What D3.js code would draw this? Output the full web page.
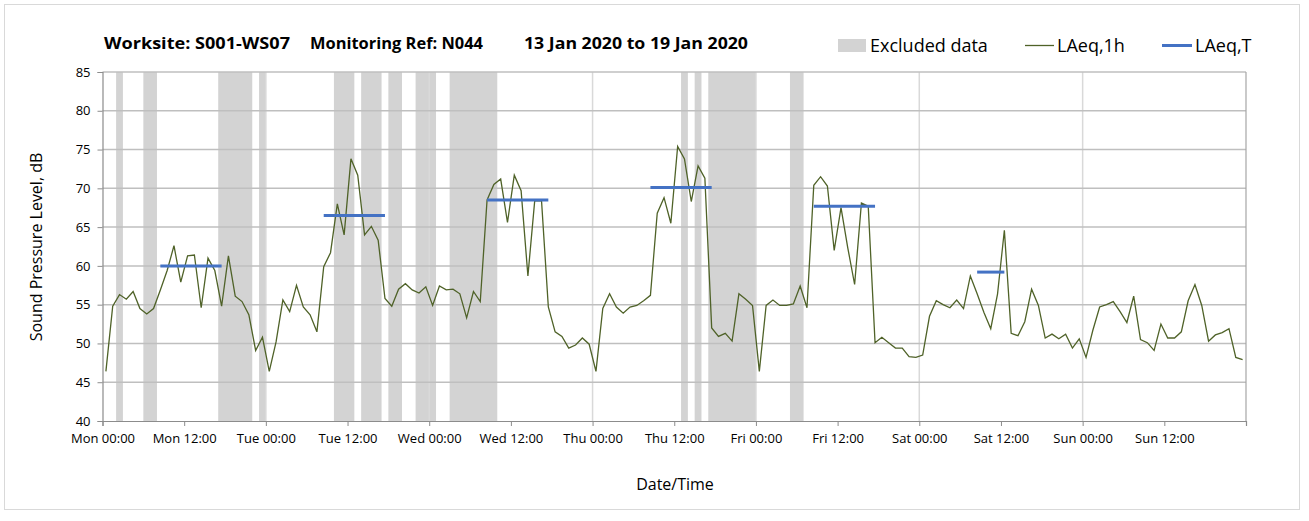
<!DOCTYPE html>
<html><head><meta charset="utf-8">
<script src="https://cdn.jsdelivr.net/npm/d3@7"></script>
<style>
html,body{margin:0;padding:0;background:#fff;}
svg{display:block;font-family:"Open Sans","Noto Sans",sans-serif;}
</style></head>
<body><svg id="chart" width="1309" height="521"></svg>
<script>
// ---- data ----
const titleParts = ["Worksite: S001-WS07", "Monitoring Ref: N044", "13 Jan 2020 to 19 Jan 2020"];
const xTickHours = [0,12,24,36,48,60,72,84,96,108,120,132,144,156];
const xTickLabels = ["Mon 00:00","Mon 12:00","Tue 00:00","Tue 12:00","Wed 00:00","Wed 12:00","Thu 00:00","Thu 12:00","Fri 00:00","Fri 12:00","Sat 00:00","Sat 12:00","Sun 00:00","Sun 12:00"];
const yTicks = [40,45,50,55,60,65,70,75,80,85];
const dayGridHours = [24,48,72,96,120,144];
// hourly LAeq,1h values, hour 0 = Mon 00:00
const laeq1h = [
46.4,54.8,56.3,55.7,56.7,54.5,53.8,54.5,56.9,59.4,62.6,57.9,61.3,61.4,54.6,61.0,59.4,54.8,61.3,56.1,55.4,53.7,49.1,50.8,
46.4,50.2,55.6,54.1,57.5,54.7,53.7,51.5,59.9,61.7,68.0,64.0,73.8,71.7,64.0,65.1,63.3,55.8,54.8,57.0,57.7,56.9,56.5,57.3,
54.9,57.4,56.9,57.0,56.4,53.3,56.7,55.4,68.5,70.5,71.2,65.6,71.7,69.7,58.7,68.4,68.4,54.7,51.5,50.9,49.4,49.8,50.7,49.9,
46.4,54.5,56.4,54.7,53.9,54.7,54.9,55.5,56.2,66.8,68.8,65.5,75.4,73.8,68.3,72.9,71.3,52.0,50.9,51.3,50.3,56.4,55.7,54.9,
46.4,54.9,55.6,54.9,54.9,55.1,57.4,54.6,70.4,71.5,70.3,62.0,67.5,62.3,57.6,68.1,67.7,50.1,50.8,50.1,49.4,49.4,48.3,48.2,
48.5,53.5,55.5,55.0,54.6,55.6,54.5,58.7,56.4,54.0,51.9,56.4,64.6,51.3,51.0,52.8,57.0,54.9,50.7,51.2,50.6,51.2,49.4,50.6,
48.2,51.7,54.7,55.0,55.4,54.1,52.7,56.1,50.5,50.1,49.1,52.5,50.7,50.7,51.5,55.5,57.6,54.9,50.3,51.1,51.4,51.9,48.2,47.9
];
// LAeq,T periods (hours from Mon 00:00)
const ltStart = [8.5, 32.5, 56.5, 80.5, 104.5, 128.5];
const ltEnd   = [17.5, 41.5, 65.5, 89.5, 113.5, 132.5];
const ltValue = [60.0, 66.5, 68.5, 70.1, 67.7, 59.2];
// excluded data periods (hours)
const exStart = [2, 6, 17, 23, 34, 38, 42, 46, 51, 85, 87, 89, 101];
const exEnd   = [3, 8, 22, 24, 37, 41, 44, 49, 58, 86, 88, 96, 103];
const legendLabels = ["Excluded data", "LAeq,1h", "LAeq,T"];

// ---- drawing ----
const svg = d3.select("#chart");
const L = 102.5, R = 1246, T = 72, B = 421;
const x = d3.scaleLinear().domain([0,168]).range([L,R]);
const y = d3.scaleLinear().domain([40,85]).range([B,T]);

svg.append("rect").attr("x",4.5).attr("y",4.5).attr("width",1295).attr("height",505)
  .attr("fill","#fff").attr("stroke","#d9d9d9").attr("stroke-width",1);

// excluded bands
svg.append("g").selectAll("rect").data(exStart).join("rect")
  .attr("x",(d)=>x(d)).attr("width",(d,i)=>x(exEnd[i])-x(d))
  .attr("y",T).attr("height",B-T).attr("fill","#d3d3d3");

// vertical day gridlines
svg.append("g").selectAll("line").data(dayGridHours).join("line")
  .attr("x1",d=>x(d)).attr("x2",d=>x(d)).attr("y1",T).attr("y2",B)
  .attr("stroke","#d9d9d9").attr("stroke-width",1.5);

// horizontal gridlines
svg.append("g").selectAll("line").data(yTicks.slice(1)).join("line")
  .attr("x1",L).attr("x2",R).attr("y1",d=>y(d)).attr("y2",d=>y(d))
  .attr("stroke","#bfbfbf").attr("stroke-width",1.5);

// right border
svg.append("line").attr("x1",R).attr("x2",R).attr("y1",T).attr("y2",B)
  .attr("stroke","#a6a6a6").attr("stroke-width",1.2);

// axes
const yAxis = d3.axisLeft(y).tickValues(yTicks).tickSize(5).tickPadding(7).tickFormat(d3.format("d"));
const gy = svg.append("g").attr("transform",`translate(${L},0)`).call(yAxis);
const xAxis = d3.axisBottom(x).tickValues(xTickHours.concat([168])).tickSize(5).tickPadding(8)
  .tickFormat((d)=>{const i = xTickHours.indexOf(d); return i>=0 ? xTickLabels[i] : "";});
const gx = svg.append("g").attr("transform",`translate(0,${B})`).call(xAxis);
[gy,gx].forEach(g=>{
  g.select(".domain").attr("stroke","#8c8c8c").attr("stroke-width",1.2);
  g.selectAll(".tick line").attr("stroke","#8c8c8c");
  g.selectAll(".tick text").attr("fill","#000").style("font-size","13px").style("font-family","'Open Sans',sans-serif");
});

// LAeq,1h line
const line = d3.line().x((d,i)=>x(i+0.5)).y(d=>y(d));
svg.append("path").datum(laeq1h).attr("d",line).attr("fill","none")
  .attr("stroke","#4f6228").attr("stroke-width",1.3).attr("stroke-linejoin","miter");

// LAeq,T
svg.append("g").selectAll("line").data(ltValue).join("line")
  .attr("x1",(d,i)=>x(ltStart[i])).attr("x2",(d,i)=>x(ltEnd[i]))
  .attr("y1",d=>y(d)).attr("y2",d=>y(d))
  .attr("stroke","#4472c4").attr("stroke-width",3);

// title
const titleX = [104, 310, 524], titleW = [186, 173, 224];
svg.append("g").selectAll("text").data(titleParts).join("text")
  .attr("x",(d,i)=>titleX[i]).attr("y",49).text(d=>d)
  .attr("textLength",(d,i)=>titleW[i]).attr("lengthAdjust","spacingAndGlyphs")
  .style("font-size","16px").style("font-weight","bold").attr("fill","#000");

// axis titles
svg.append("text").attr("transform","translate(42,247) rotate(-90)").attr("text-anchor","middle")
  .style("font-size","16px").attr("fill","#000").text("Sound Pressure Level, dB");
svg.append("text").attr("x",675).attr("y",490).attr("text-anchor","middle")
  .style("font-size","16px").attr("fill","#000").text("Date/Time");

// legend
const lg = svg.append("g");
lg.append("rect").attr("x",838).attr("y",39).attr("width",28).attr("height",13).attr("fill","#d3d3d3");
lg.append("line").attr("x1",1025).attr("x2",1054).attr("y1",45.5).attr("y2",45.5).attr("stroke","#4f6228").attr("stroke-width",1.3);
lg.append("line").attr("x1",1162).attr("x2",1192).attr("y1",45.5).attr("y2",45.5).attr("stroke","#4472c4").attr("stroke-width",3);
const legX = [870, 1057, 1195];
lg.selectAll("text").data(legendLabels).join("text")
  .attr("x",(d,i)=>legX[i]).attr("y",52).text(d=>d)
  .style("font-size","18px").attr("fill","#000");
</script></body></html>
